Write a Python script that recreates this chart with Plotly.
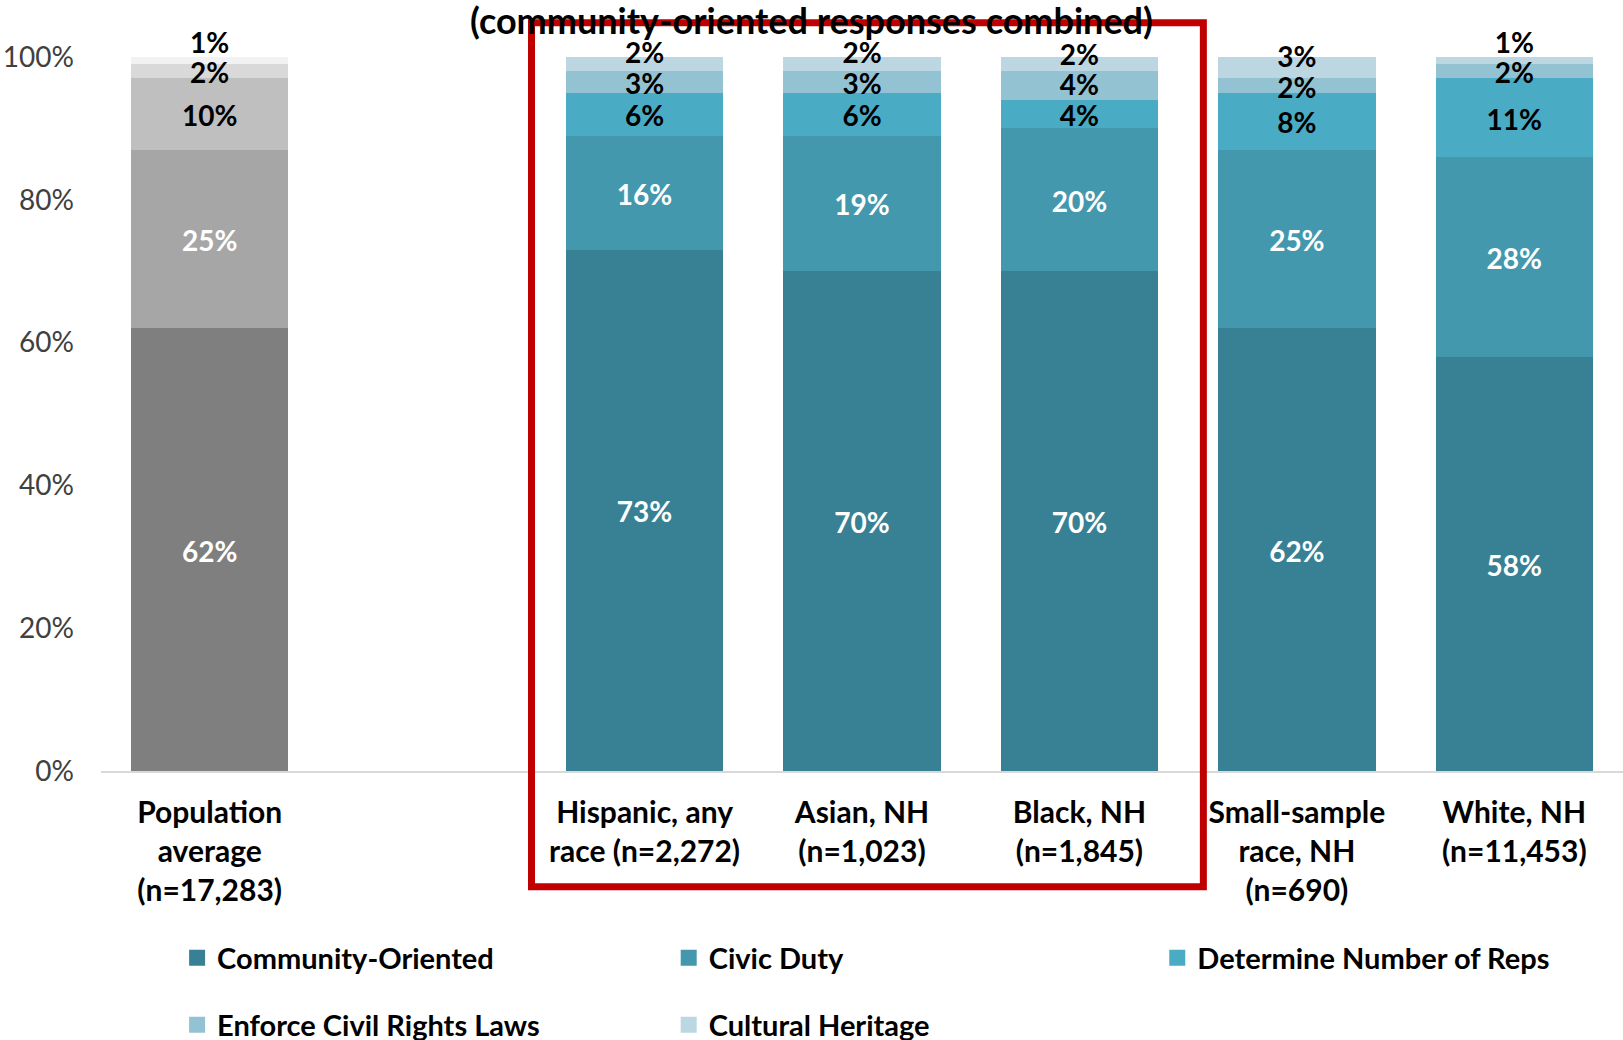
import numpy as np
import plotly.graph_objects as go

# ---- data ----
categories = ["Population<br>average<br>(n=17,283)", "Hispanic, any<br>race (n=2,272)",
              "Asian, NH<br>(n=1,023)", "Black, NH<br>(n=1,845)",
              "Small-sample<br>race, NH<br>(n=690)", "White, NH<br>(n=11,453)"]
slots = [0, 2, 3, 4, 5, 6]  # slot 1 is an empty gap
series_names = ["Community-Oriented", "Civic Duty", "Determine Number of Reps",
                "Enforce Civil Rights Laws", "Cultural Heritage"]
community = [62, 73, 70, 70, 62, 58]
civic = [25, 16, 19, 20, 25, 28]
determine = [10, 6, 6, 4, 8, 11]
enforce = [2, 3, 3, 4, 2, 2]
heritage = [1, 2, 2, 2, 3, 1]
yticks = [0, 20, 40, 60, 80, 100]
title_text = "(community-oriented responses combined)"

series = [community, civic, determine, enforce, heritage]
teal = ["#388194", "#4398AE", "#4AABC5", "#93C3D3", "#BCD7E2"]
grey = ["#7F7F7F", "#A6A6A6", "#BFBFBF", "#D9D9D9", "#F2F2F2"]
txtcol = ["white", "white", "black", "black", "black"]
FONT = "Lato"
BW = 0.724

# layout geometry (pixels)
W, H = 1623, 1040
ML, MT = 101, 3
Y0PX, PX_PER_UNIT = 771, 714
MB = H - Y0PX
YMAX = (Y0PX - MT) / PX_PER_UNIT
NSLOT = 7
LABEL_SHIFT = -5 / PX_PER_UNIT  # small downward nudge of data labels

legend_ids = ["legend", "legend2", "legend3", "legend4", "legend5"]
legend_pos = [(0.050, 958), (0.373, 958), (0.694, 958), (0.050, 1025), (0.373, 1025)]

fig = go.Figure()
for k, (name, vals) in enumerate(zip(series_names, series)):
    v = np.array(vals) / 100.0
    fig.add_trace(go.Bar(x=[slots[0]], y=[v[0]], width=BW, marker_color=grey[k],
                         marker_line_width=0, showlegend=False, hoverinfo="skip"))
    fig.add_trace(go.Bar(x=slots[1:], y=v[1:], width=BW, name=name, marker_color=teal[k],
                         marker_line_width=0, showlegend=False))
    # legend entry with a larger square swatch
    fig.add_trace(go.Scatter(x=[None], y=[None], mode="markers", name=name,
                             marker=dict(symbol="square", size=16, color=teal[k]),
                             legend=legend_ids[k], showlegend=True, hoverinfo="skip"))

# labels (computed from cumulative values, de-overlapped bottom to top)
arr = np.array(series) / 100.0
cum = np.cumsum(arr, axis=0)
mids = cum - arr / 2
lx, ly, lt, lc = [], [], [], []
GAP = 0.043
for j, s in enumerate(slots):
    prev = -1
    for k in range(len(series)):
        y = max(mids[k, j], prev + GAP) if k >= 3 else mids[k, j]
        prev = y
        lx.append(s); ly.append(y + LABEL_SHIFT); lt.append(f"{series[k][j]}%"); lc.append(txtcol[k])
fig.add_trace(go.Scatter(x=lx, y=ly, text=lt, mode="text", textposition="middle center",
                         textfont=dict(family=FONT, size=28, color=lc, weight="bold"),
                         showlegend=False, hoverinfo="skip", cliponaxis=False))

# red highlight box (around the three middle groups), in paper coords
bx0, bx1, by0, by1 = 1.48, 4.57, -0.162, 1.048
fig.add_shape(type="rect", xref="paper", yref="paper",
              x0=(bx0 + 0.5) / NSLOT, x1=(bx1 + 0.5) / NSLOT,
              y0=by0 / YMAX, y1=by1 / YMAX,
              line=dict(color="#C00000", width=7), layer="above")

leg_font = dict(family=FONT, size=29, color="black", weight="bold")
legends = {}
for lid, (lxp, lypx) in zip(legend_ids, legend_pos):
    legends[lid] = dict(orientation="h", x=lxp, xanchor="left",
                        y=-(lypx - Y0PX) / (Y0PX - MT), yanchor="middle",
                        font=leg_font, bgcolor="rgba(0,0,0,0)", itemsizing="trace")

fig.update_layout(
    width=W, height=H, barmode="stack", bargap=0,
    plot_bgcolor="white", paper_bgcolor="white",
    margin=dict(l=ML, r=0, t=MT, b=MB, autoexpand=False),
    title=dict(text=title_text, x=0.5, xanchor="center", y=1 - 21 / H, yanchor="middle",
               yref="container", font=dict(family=FONT, size=36, color="black", weight="bold")),
    xaxis=dict(range=[-0.5, 6.5], tickvals=slots, ticktext=categories, showgrid=False,
               zeroline=False, showline=True, linecolor="#D9D9D9", linewidth=2, ticks="",
               ticklabelstandoff=14,
               tickfont=dict(family=FONT, size=30, color="black", weight="bold")),
    yaxis=dict(range=[0, YMAX], tickvals=[t / 100 for t in yticks],
               ticktext=[f"{t}%" for t in yticks], showgrid=False, zeroline=False,
               showline=False, ticks="", ticklabelstandoff=26,
               tickfont=dict(family=FONT, size=28, color="#404040")),
    **legends,
)
fig.write_html("out.html", config={"displayModeBar": False},
               post_script="document.body.style.margin='0px';")
